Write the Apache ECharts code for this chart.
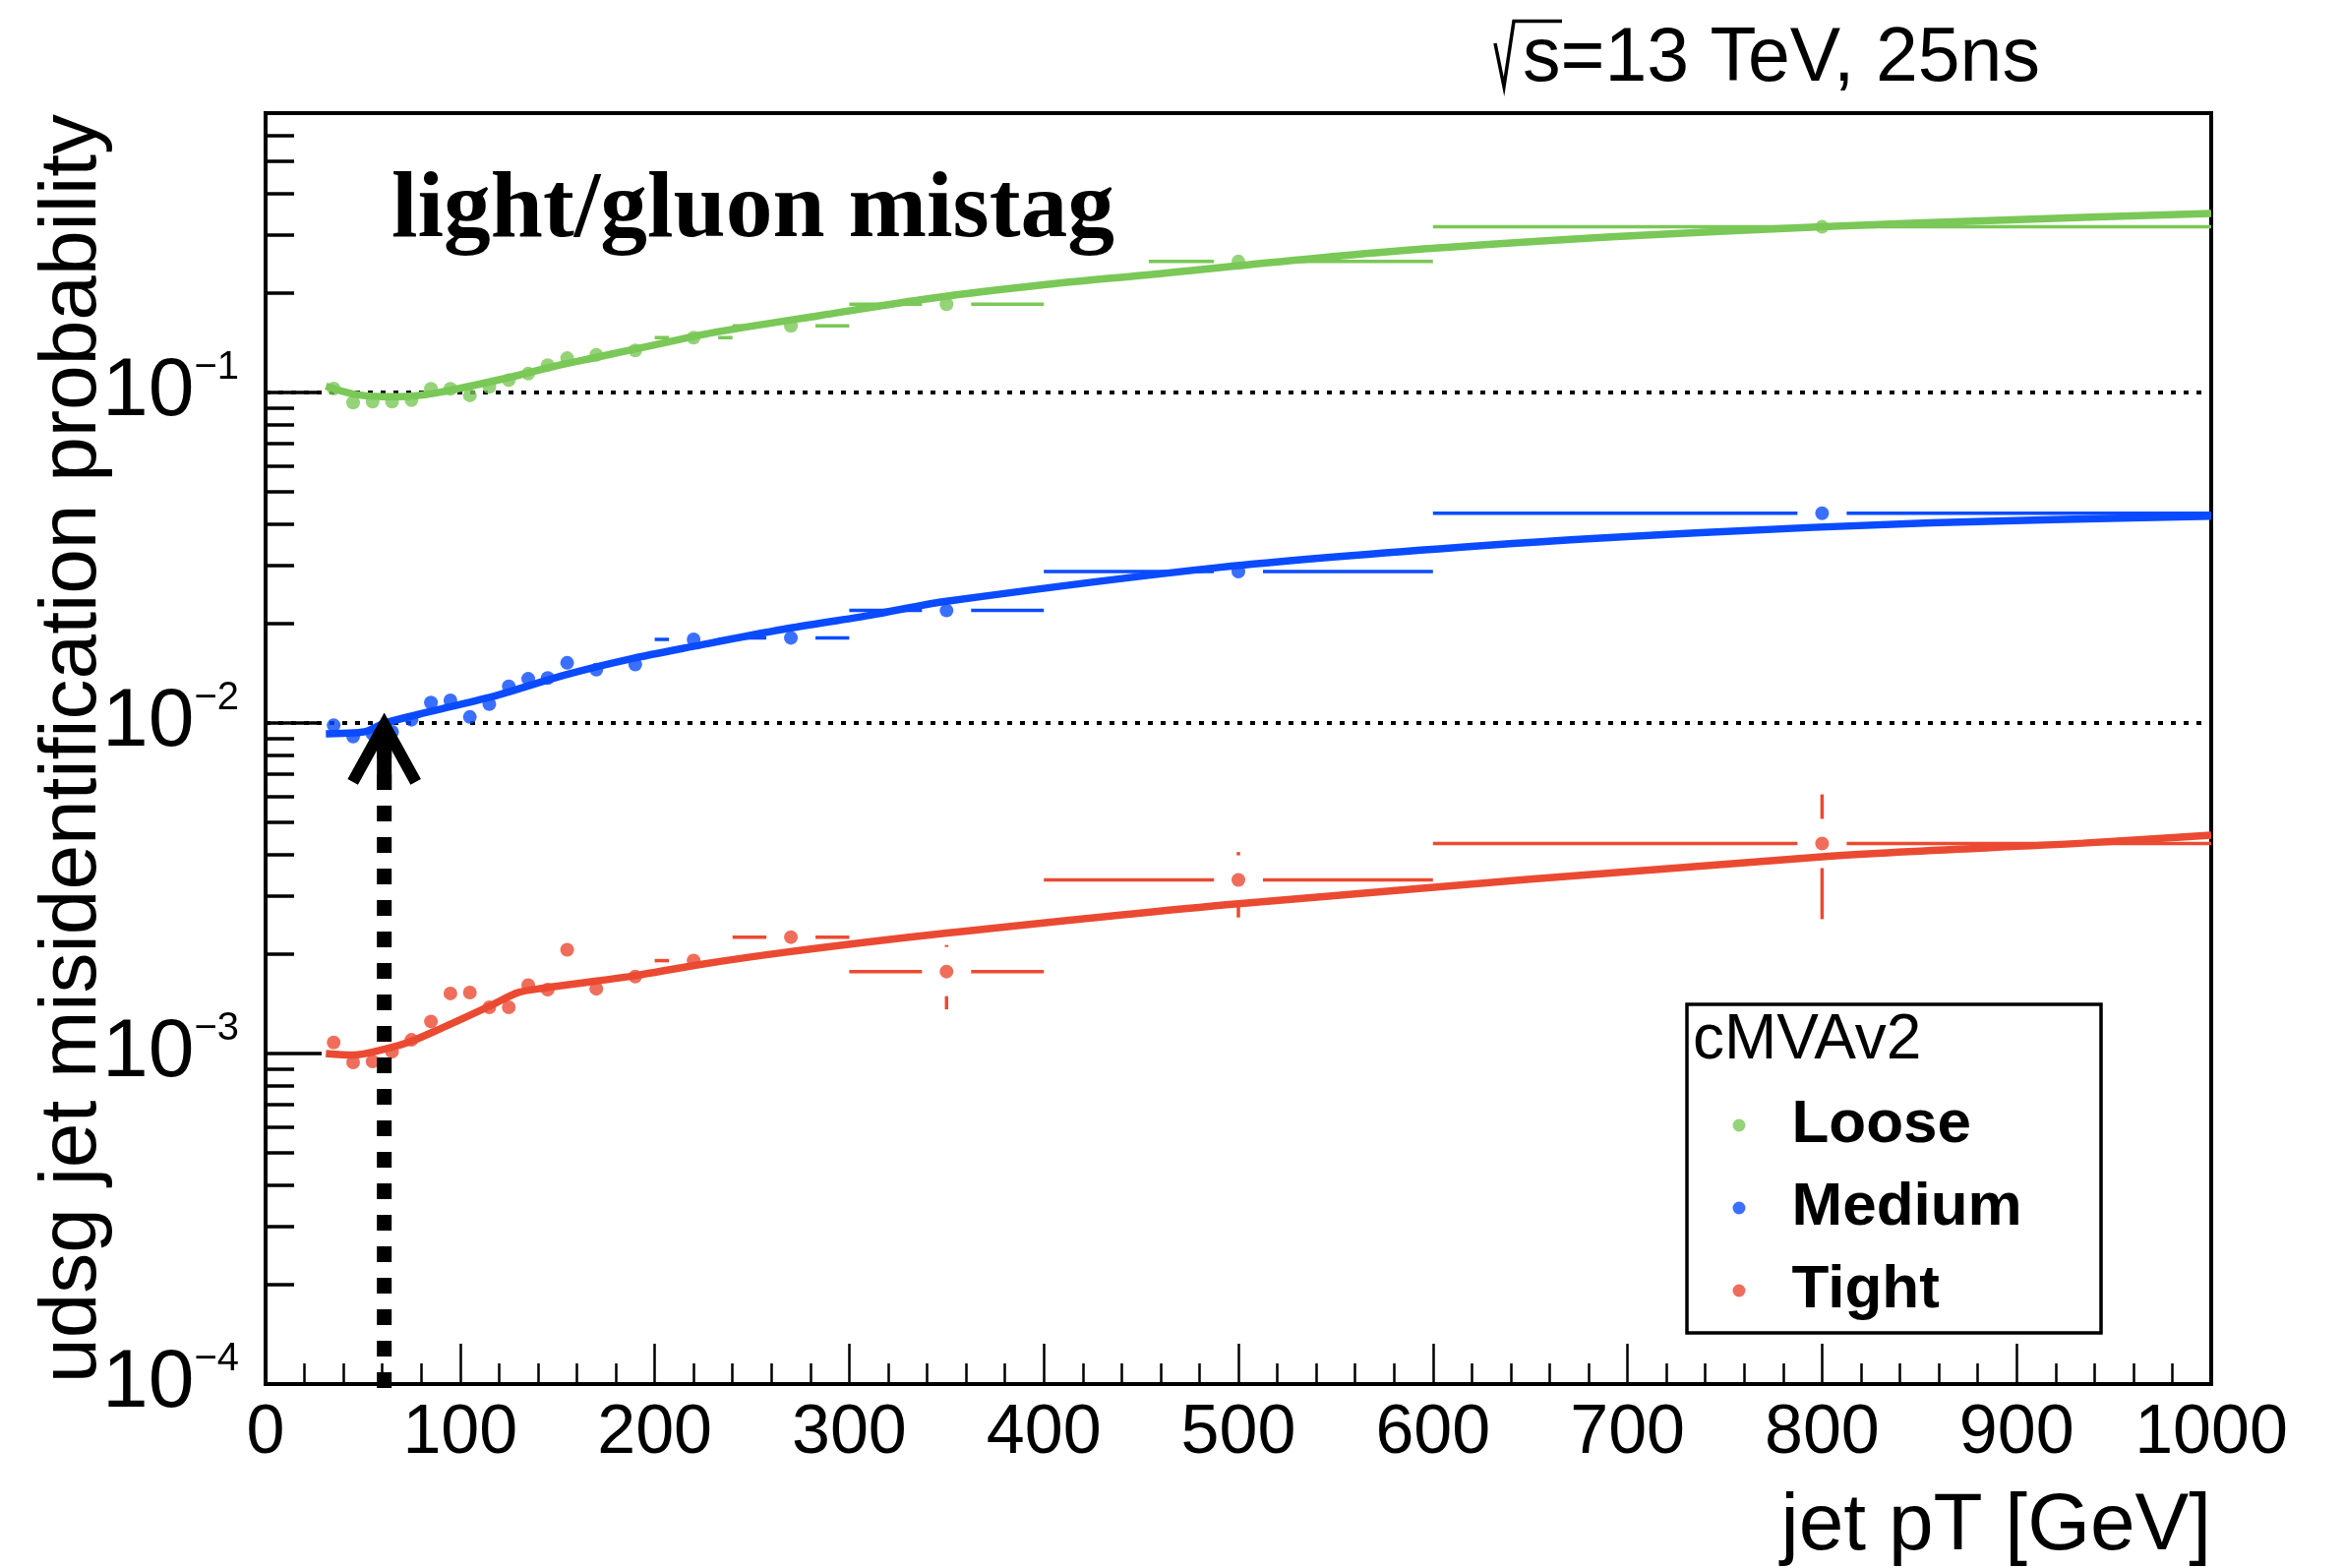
<!DOCTYPE html>
<html>
<head>
<meta charset="utf-8">
<script src="https://cdn.jsdelivr.net/npm/echarts@6/dist/echarts.min.js"></script>
<style>
  html, body { margin: 0; padding: 0; background: #fff; }
  #chart { width: 2383px; height: 1594px; }
</style>
</head>
<body>
<div id="chart"></div>
<script>
// ---- jet pT binning [GeV] ----
const ptBinCenter = [35, 45, 55, 65, 75, 85, 95, 105, 115, 125, 135, 145, 155, 170, 190, 220, 270, 350, 500, 800];
const ptBinLow    = [30, 40, 50, 60, 70, 80, 90, 100, 110, 120, 130, 140, 150, 160, 180, 200, 240, 300, 400, 600];
const ptBinHigh   = [40, 50, 60, 70, 80, 90, 100, 110, 120, 130, 140, 150, 160, 180, 200, 240, 300, 400, 600, 1000];

// ---- measured udsg mistag rates per working point ----
const looseMistag  = [0.1028, 0.0932, 0.0938, 0.0938, 0.0948, 0.1026, 0.1026, 0.0980, 0.1040, 0.1090,
                      0.1140, 0.1210, 0.1270, 0.1300, 0.1340, 0.1465, 0.1590, 0.1850, 0.2490, 0.3170];
const mediumMistag = [0.00984, 0.00910, 0.00927, 0.00940, 0.01023, 0.01153, 0.01170, 0.01043, 0.01140, 0.01290,
                      0.01360, 0.01368, 0.01520, 0.01449, 0.01503, 0.01790, 0.01810, 0.02190, 0.02870, 0.04310];
const tightMistag  = [0.00108, 0.00094, 0.000946, 0.001014, 0.00110, 0.00125, 0.00152, 0.00153, 0.00138, 0.00138,
                      0.00161, 0.00156, 0.00206, 0.00157, 0.00171, 0.00191, 0.00225, 0.00177, 0.00335, 0.00432];

// vertical uncertainty band edges (null = contained in the marker)
const tightErrLow  = [null, null, null, null, null, null, null, null, null, null,
                      null, null, null, null, null, null, null, 0.00136, 0.00258, 0.00255];
const tightErrHigh = [null, null, null, null, null, null, null, null, null, null,
                      null, null, null, null, null, null, null, 0.00213, 0.00407, 0.00608];

// ---- parametrised fits ----
const looseFitPt  = [31, 45, 60, 75, 90, 110, 130, 150, 170, 200, 230, 285, 343, 401, 450, 572, 694, 800, 897, 1000];
const looseFitVal = [0.1045, 0.0989, 0.0971, 0.0975, 0.1002, 0.1060, 0.1127, 0.1206, 0.1277, 0.1393,
                     0.1517, 0.1710, 0.1930, 0.2120, 0.2260, 0.2650, 0.2960, 0.3170, 0.3330, 0.3480];
const mediumFitPt  = [31, 45, 52, 61, 85, 119, 153, 187, 221, 266, 311, 349, 491, 613, 735, 856, 1000];
const mediumFitVal = [0.00927, 0.00933, 0.00944, 0.00998, 0.01084, 0.01213, 0.01393, 0.01560, 0.01710,
                      0.01920, 0.02120, 0.02330, 0.02960, 0.03400, 0.03760, 0.04030, 0.04220];
const tightFitPt  = [31, 45, 61, 75, 90, 115, 130, 144, 171, 190, 221, 266, 349, 500, 800, 934, 1000];
const tightFitVal = [0.00100, 0.000989, 0.00103, 0.00109, 0.00119, 0.00139, 0.00153, 0.00158, 0.00166,
                     0.00172, 0.00185, 0.00202, 0.00231, 0.00284, 0.00394, 0.00433, 0.00458];

// ---- reference arrow: pT where the Medium rate reaches 1% ----
const arrowPt = 61;
const arrowFrom = 1e-4;
const arrowTo = 1e-2;

// ---- axes ----
const yMajorTicks = [1e-4, 1e-3, 1e-2, 1e-1];
const yMinorTicks = [2e-4, 3e-4, 4e-4, 5e-4, 6e-4, 7e-4, 8e-4, 9e-4,
                     2e-3, 3e-3, 4e-3, 5e-3, 6e-3, 7e-3, 8e-3, 9e-3,
                     2e-2, 3e-2, 4e-2, 5e-2, 6e-2, 7e-2, 8e-2, 9e-2,
                     2e-1, 3e-1, 4e-1, 5e-1, 6e-1, 7e-1];
const yGridLines = [1e-1, 1e-2, 1e-3];

const workingPoints = ['Loose', 'Medium', 'Tight'];
const wpColors = ['#7ac857', '#0a4bff', '#eb4a32'];

const SANS = "'Liberation Sans', Arial, Helvetica, sans-serif";
const SERIF = "'Liberation Serif', 'Times New Roman', serif";

function pointRows(values, errLow, errHigh) {
  return values.map((v, i) => [
    ptBinCenter[i], v, ptBinLow[i], ptBinHigh[i],
    (errLow && errLow[i] != null) ? errLow[i] : v,
    (errHigh && errHigh[i] != null) ? errHigh[i] : v
  ]);
}
function curveRows(pts, vals) { return pts.map((p, i) => [p, vals[i]]); }

// error bars with an opening left around the marker
function errorBarRenderer(color) {
  const gap = 25;
  return function (params, api) {
    const x = api.value(0), y = api.value(1);
    const c = api.coord([x, y]);
    const l = api.coord([api.value(2), y]);
    const r = api.coord([api.value(3), y]);
    const lo = api.coord([x, api.value(4)]);
    const hi = api.coord([x, api.value(5)]);
    const style = { stroke: color, lineWidth: 3.5, fill: null };
    const kids = [];
    if (c[0] - gap > l[0]) kids.push({ type: 'line', shape: { x1: l[0], y1: c[1], x2: c[0] - gap, y2: c[1] }, style });
    if (r[0] > c[0] + gap) kids.push({ type: 'line', shape: { x1: c[0] + gap, y1: c[1], x2: r[0], y2: c[1] }, style });
    if (hi[1] < c[1] - gap) kids.push({ type: 'line', shape: { x1: c[0], y1: hi[1], x2: c[0], y2: c[1] - gap }, style });
    if (lo[1] > c[1] + gap) kids.push({ type: 'line', shape: { x1: c[0], y1: c[1] + gap, x2: c[0], y2: lo[1] }, style });
    return { type: 'group', children: kids };
  };
}

function arrowRenderer(params, api) {
  const base = api.coord([api.value(0), api.value(1)]);
  const tip = api.coord([api.value(0), api.value(2)]);
  return {
    type: 'group',
    children: [
      { type: 'line', shape: { x1: tip[0], y1: tip[1] + 20, x2: base[0], y2: base[1] + 4 },
        style: { stroke: '#000', lineWidth: 15, lineDash: [16, 16], lineCap: 'butt' } },
      { type: 'line', shape: { x1: tip[0], y1: tip[1] + 6, x2: tip[0], y2: tip[1] + 68 },
        style: { stroke: '#000', lineWidth: 15, lineCap: 'butt' } },
      { type: 'polyline', shape: { points: [[tip[0] - 32, tip[1] + 60], [tip[0], tip[1] + 2], [tip[0] + 32, tip[1] + 60]] },
        style: { stroke: '#000', lineWidth: 12, fill: null, lineJoin: 'miter' } }
    ]
  };
}

const pointSets = [
  pointRows(looseMistag),
  pointRows(mediumMistag),
  pointRows(tightMistag, tightErrLow, tightErrHigh)
];
const fitSets = [
  curveRows(looseFitPt, looseFitVal),
  curveRows(mediumFitPt, mediumFitVal),
  curveRows(tightFitPt, tightFitVal)
];

const series = [];
workingPoints.forEach((wp, k) => {
  series.push({
    name: wp + ' uncertainty', type: 'custom', z: 2, silent: true,
    renderItem: errorBarRenderer(wpColors[k]),
    encode: { x: 0, y: 1 },
    data: pointSets[k]
  });
  series.push({
    name: wp, type: 'scatter', z: 3, symbol: 'circle', symbolSize: 14,
    itemStyle: { color: wpColors[k] },
    data: pointSets[k].map(r => [r[0], r[1]])
  });
});
workingPoints.forEach((wp, k) => {
  const s = {
    name: wp + ' fit', type: 'line', z: 4, smooth: 0.3, symbol: 'none',
    lineStyle: { color: wpColors[k], width: 7.5 },
    data: fitSets[k]
  };
  if (k === 0) {
    s.markLine = {
      silent: true, symbol: 'none', z: 1, animation: false,
      label: { show: false },
      lineStyle: { color: '#000', width: 4, type: [5, 8] },
      data: yGridLines.map(v => ({ yAxis: v }))
    };
  }
  series.push(s);
});
series.push({
  name: 'reference arrow', type: 'custom', z: 5, silent: true,
  renderItem: arrowRenderer,
  encode: { x: 0, y: 1 },
  data: [[arrowPt, arrowFrom, arrowTo]]
});

const option = {
  animation: false,
  backgroundColor: '#fff',
  grid: {
    left: 270, right: 135, top: 115, bottom: 187,
    show: true, borderColor: '#000', borderWidth: 4, backgroundColor: 'transparent',
    containLabel: false, outerBoundsMode: 'none'
  },
  xAxis: [
    {
      type: 'value', min: 0, max: 1000, interval: 100, position: 'bottom',
      name: 'jet pT [GeV]', nameLocation: 'end', nameGap: 0, nameMoveOverlap: false,
      nameTextStyle: { fontFamily: SANS, fontSize: 82, color: '#000', align: 'right', verticalAlign: 'top', padding: [104, 0, 0, 0] },
      axisLine: { show: true, onZero: false, lineStyle: { color: '#000', width: 4 } },
      axisTick: { show: true, inside: true, length: 41, lineStyle: { color: '#000', width: 2.5 } },
      axisLabel: { show: true, margin: 16, fontFamily: SANS, fontSize: 70, lineHeight: 70, color: '#000',
                   formatter: v => String(v) },
      splitLine: { show: false }
    },
    {
      type: 'value', min: 0, max: 1000, interval: 20, position: 'bottom',
      axisLine: { show: false, onZero: false },
      axisTick: { show: true, inside: true, length: 21, lineStyle: { color: '#000', width: 2.5 } },
      axisLabel: { show: false },
      splitLine: { show: false }
    }
  ],
  yAxis: [
    {
      type: 'log', logBase: 10, min: 1e-4, max: 0.7, position: 'left',
      name: 'udsg jet misidentification probability', nameLocation: 'middle', nameGap: 155, nameRotate: 90,
      nameMoveOverlap: false,
      nameTextStyle: { fontFamily: SANS, fontSize: 82, color: '#000' },
      axisLine: { show: true, onZero: false, lineStyle: { color: '#000', width: 4 } },
      axisTick: { show: true, inside: true, length: 57, customValues: yMajorTicks, lineStyle: { color: '#000', width: 3.5 } },
      axisLabel: {
        show: true, margin: 27, customValues: yMajorTicks,
        formatter: v => '{b|10}{s|\u2212' + Math.round(-Math.log10(v)) + '}',
        rich: {
          b: { fontFamily: SANS, fontSize: 84, lineHeight: 90, color: '#000' },
          s: { fontFamily: SANS, fontSize: 40, lineHeight: 62, verticalAlign: 'top', color: '#000' }
        }
      },
      splitLine: { show: false }
    },
    {
      type: 'log', logBase: 10, min: 1e-4, max: 0.7, position: 'left',
      axisLine: { show: false, onZero: false },
      axisTick: { show: true, inside: true, length: 29, customValues: yMinorTicks, lineStyle: { color: '#000', width: 3.5 } },
      axisLabel: { show: false },
      splitLine: { show: false }
    }
  ],
  legend: {
    data: workingPoints,
    orient: 'vertical', left: 1715, top: 1021,
    padding: [92, 80, 12, 46.5],
    itemWidth: 13, itemHeight: 13, itemGap: 22, icon: 'circle',
    selectedMode: false, z: 8,
    textStyle: { fontFamily: SANS, fontSize: 62, fontWeight: 'bold', color: '#000', lineHeight: 62, padding: [0, 0, 0, 42] }
  },
  graphic: [
    // title pave
    { type: 'rect', z: 6, silent: true, shape: { x: 385, y: 140, width: 783, height: 132 }, style: { fill: '#fff' } },
    { type: 'text', z: 7, silent: true, style: { x: 398, y: 215, text: 'light/gluon mistag', font: 'bold 95.5px ' + SERIF, fill: '#000', verticalAlign: 'middle', align: 'left' } },
    // centre-of-mass energy label
    { type: 'polyline', z: 7, silent: true, shape: { points: [[1520, 44], [1529, 88], [1539, 21.5], [1588, 21.5]] }, style: { stroke: '#000', lineWidth: 3.5, fill: null } },
    { type: 'text', z: 7, silent: true, style: { x: 1548, y: 61, text: 's=13 TeV, 25ns', font: '77px ' + SANS, fill: '#000', verticalAlign: 'middle', align: 'left' } },
    // legend frame and header
    { type: 'rect', z: 6, silent: true, shape: { x: 1715, y: 1021, width: 421, height: 334 }, style: { fill: '#fff', stroke: '#000', lineWidth: 3.5 } },
    { type: 'text', z: 7, silent: true, style: { x: 1721, y: 1058, text: 'cMVAv2', font: '64px ' + SANS, fill: '#000', verticalAlign: 'middle', align: 'left' } }
  ],
  series: series
};

const chart = echarts.init(document.getElementById('chart'), null, { renderer: 'canvas' });
chart.setOption(option);
</script>
</body>
</html>
